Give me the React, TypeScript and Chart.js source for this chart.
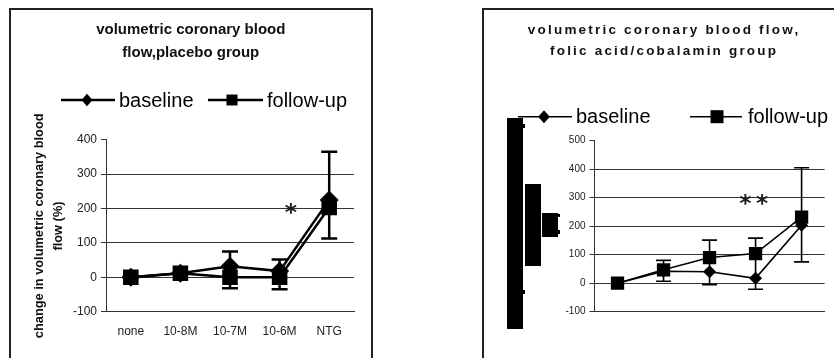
import { useEffect, useRef } from "react";
import { Chart, registerables } from "chart.js";

Chart.register(...registerables);

const FONT = '"Liberation Sans", Arial, Helvetica, sans-serif';
const STAR_FONT = '"DejaVu Sans", "Liberation Sans", sans-serif';

// Dose steps shared by both panels
const doses = ["none", "10-8M", "10-7M", "10-6M", "NTG"];

// Placebo group: % change in volumetric coronary blood flow
const placeboBaseline = [0, 12, 32, 18, 225];
const placeboFollowUp = [0, 12, 0, 0, 203];
const placeboErrLow: (number | null)[] = [null, null, -32, -35, 113];
const placeboErrHigh: (number | null)[] = [null, null, 75, 52, 365];
const placeboTicks = [-100, 0, 100, 200, 300, 400];

// Folic acid / cobalamin group
const vitaminBaseline = [0, 42, 40, 17, 203];
const vitaminFollowUp = [0, 47, 90, 104, 232];
const vitaminErrLow: (number | null)[] = [null, 7, -5, -21, 75];
const vitaminErrHigh: (number | null)[] = [null, 80, 151, 158, 405];
const vitaminTicks = [-100, 0, 100, 200, 300, 400, 500];

const seriesNames = ["baseline", "follow-up"];

// width reserved for the y axis (tick marks + labels)
const Y_AXIS_W = 44;

type LegendItem = {
  x1: number;
  x2: number;
  mx: number;
  marker: "diamond" | "square";
  mw: number;
  mh: number;
  tx: number;
  text: string;
};

type Decor = {
  title: { lines: string[]; font: string; spacing: number; cx: number; baselines: number[] };
  yTitle?: { lines: string[]; font: string; xs: number[]; cys: number[] };
  legend: { y: number; lineWidth: number; font: string; textY: number; items: LegendItem[] };
  stars: { cx: number; cy: number; h: number }[];
  blocks?: [number, number, number, number][];
};

function errorBars(lows: (number | null)[], highs: (number | null)[], lineWidth: number, cap: number) {
  return {
    id: "errorBars",
    afterDatasetsDraw(chart: any) {
      const { ctx } = chart;
      const xs = chart.scales.x;
      const ys = chart.scales.y;
      ctx.save();
      ctx.strokeStyle = "#000";
      ctx.lineWidth = lineWidth;
      lows.forEach((lo, i) => {
        const hi = highs[i];
        if (lo == null || hi == null) return;
        const px = xs.getPixelForValue(i);
        const yl = ys.getPixelForValue(lo);
        const yh = ys.getPixelForValue(hi);
        ctx.beginPath();
        ctx.moveTo(px, yl);
        ctx.lineTo(px, yh);
        ctx.moveTo(px - cap / 2, yl);
        ctx.lineTo(px + cap / 2, yl);
        ctx.moveTo(px - cap / 2, yh);
        ctx.lineTo(px + cap / 2, yh);
        ctx.stroke();
      });
      ctx.restore();
    },
  };
}

function drawStar(ctx: CanvasRenderingContext2D, cx: number, cy: number, h: number) {
  ctx.font = `bold 100px ${STAR_FONT}`;
  const m = ctx.measureText("*");
  const gh = m.actualBoundingBoxAscent + m.actualBoundingBoxDescent;
  const size = (100 * h) / gh;
  ctx.font = `bold ${size}px ${STAR_FONT}`;
  const m2 = ctx.measureText("*");
  ctx.textAlign = "left";
  ctx.textBaseline = "alphabetic";
  const x = cx - (m2.actualBoundingBoxRight - m2.actualBoundingBoxLeft) / 2;
  const y = cy + (m2.actualBoundingBoxAscent - m2.actualBoundingBoxDescent) / 2;
  ctx.fillText("*", x, y);
}

function decorPlugin(d: Decor) {
  return {
    id: "panelDecor",
    afterDraw(chart: any) {
      const ctx: CanvasRenderingContext2D = chart.ctx;
      ctx.save();
      ctx.fillStyle = "#000";

      // solid blocks beside the axis
      (d.blocks || []).forEach(([x, y, w, h]) => ctx.fillRect(x, y, w, h));

      // title
      ctx.fillStyle = "#111";
      ctx.font = d.title.font;
      ctx.textAlign = "center";
      ctx.textBaseline = "alphabetic";
      (ctx as any).letterSpacing = `${d.title.spacing}px`;
      d.title.lines.forEach((t, i) => {
        ctx.fillText(t, d.title.cx + d.title.spacing / 2, d.title.baselines[i]);
      });
      (ctx as any).letterSpacing = "0px";

      // rotated axis title
      if (d.yTitle) {
        ctx.font = d.yTitle.font;
        d.yTitle.lines.forEach((t, i) => {
          ctx.save();
          ctx.translate(d.yTitle!.xs[i], d.yTitle!.cys[i]);
          ctx.rotate(-Math.PI / 2);
          ctx.textAlign = "center";
          ctx.fillText(t, 0, 0);
          ctx.restore();
        });
      }

      // legend
      const L = d.legend;
      ctx.strokeStyle = "#000";
      ctx.fillStyle = "#000";
      ctx.lineWidth = L.lineWidth;
      L.items.forEach((it) => {
        ctx.beginPath();
        ctx.moveTo(it.x1, L.y);
        ctx.lineTo(it.x2, L.y);
        ctx.stroke();
        ctx.beginPath();
        if (it.marker === "diamond") {
          ctx.moveTo(it.mx - it.mw / 2, L.y);
          ctx.lineTo(it.mx, L.y - it.mh / 2);
          ctx.lineTo(it.mx + it.mw / 2, L.y);
          ctx.lineTo(it.mx, L.y + it.mh / 2);
          ctx.closePath();
        } else {
          ctx.rect(it.mx - it.mw / 2, L.y - it.mh / 2, it.mw, it.mh);
        }
        ctx.fill();
        ctx.font = L.font;
        ctx.textAlign = "left";
        ctx.textBaseline = "alphabetic";
        ctx.fillText(it.text, it.tx, L.textY);
      });

      // significance markers
      ctx.fillStyle = "#222";
      d.stars.forEach((s) => drawStar(ctx, s.cx, s.cy, s.h));
      ctx.restore();
    },
  };
}

function lineDataset(label: string, data: number[], style: string, radius: number, width: number) {
  return {
    label,
    data,
    borderColor: "#000",
    backgroundColor: "#000",
    borderWidth: width,
    pointStyle: style,
    pointRadius: radius,
    pointBorderWidth: 0,
    pointBackgroundColor: "#000",
    tension: 0,
    fill: false,
  };
}

function yScale(ticks: number[], fontSize: number, topHidden: number) {
  return {
    min: ticks[0],
    max: ticks[ticks.length - 1],
    afterBuildTicks: (s: any) => {
      s.ticks = ticks.map((v) => ({ value: v }));
    },
    afterFit: (s: any) => {
      s.width = Y_AXIS_W;
    },
    grid: {
      color: (c: any) => (c.tick && c.tick.value === topHidden ? "rgba(0,0,0,0)" : "#333"),
      tickColor: "#333",
      tickLength: 5,
      lineWidth: 1,
    },
    border: { display: true, color: "#333", width: 1 },
    ticks: { color: "#222", font: { family: FONT, size: fontSize }, padding: 4 },
  };
}

function placeboConfig(): any {
  return {
    type: "line",
    data: {
      labels: doses,
      datasets: [
        lineDataset(seriesNames[0], placeboBaseline, "rectRot", 9.5, 2.5),
        lineDataset(seriesNames[1], placeboFollowUp, "rect", 11, 2.5),
      ],
    },
    options: {
      responsive: false,
      animation: false,
      events: [],
      layout: { padding: { left: 106 - Y_AXIS_W, right: 480, top: 139.7, bottom: 16.3 } },
      plugins: { legend: { display: false }, title: { display: false }, tooltip: { enabled: false } },
      scales: {
        x: {
          offset: true,
          grid: { display: false },
          border: { display: true, color: "#333", width: 1 },
          ticks: { color: "#222", font: { family: FONT, size: 12 }, padding: 5, maxRotation: 0, autoSkip: false },
          afterFit: (s: any) => {
            s.height = 30;
          },
        },
        y: yScale(placeboTicks, 12, 400),
      },
    },
    plugins: [
      errorBars(placeboErrLow, placeboErrHigh, 2.5, 16),
      decorPlugin({
        title: {
          lines: ["volumetric coronary blood", "flow,placebo group"],
          font: `bold 15px ${FONT}`,
          spacing: 0,
          cx: 190.8,
          baselines: [34, 56.7],
        },
        yTitle: {
          lines: ["change in volumetric coronary blood", "flow (%)"],
          font: `bold 12.8px ${FONT}`,
          xs: [42.7, 61.7],
          cys: [225.8, 226],
        },
        legend: {
          y: 100,
          lineWidth: 2.5,
          font: `20px ${FONT}`,
          textY: 107,
          items: [
            { x1: 61, x2: 115, mx: 87, marker: "diamond", mw: 11, mh: 12.5, tx: 119, text: seriesNames[0] },
            { x1: 208, x2: 263, mx: 232, marker: "square", mw: 11, mh: 11, tx: 267, text: seriesNames[1] },
          ],
        },
        stars: [{ cx: 290.8, cy: 208, h: 11 }],
      }),
    ],
  };
}

function vitaminConfig(): any {
  return {
    type: "line",
    data: {
      labels: doses,
      datasets: [
        lineDataset(seriesNames[0], vitaminBaseline, "rectRot", 6.5, 1.6),
        lineDataset(seriesNames[1], vitaminFollowUp, "rect", 9.4, 1.6),
      ],
    },
    options: {
      responsive: false,
      animation: false,
      events: [],
      layout: { padding: { left: 594.5 - Y_AXIS_W, right: 7.5, top: 140.7, bottom: 46.3 } },
      plugins: { legend: { display: false }, title: { display: false }, tooltip: { enabled: false } },
      scales: {
        x: {
          offset: true,
          grid: { display: false },
          border: { display: true, color: "#333", width: 1 },
          ticks: { display: false },
          afterFit: (s: any) => {
            s.height = 0;
          },
        },
        y: yScale(vitaminTicks, 10, 500),
      },
    },
    plugins: [
      errorBars(vitaminErrLow, vitaminErrHigh, 1.6, 15),
      decorPlugin({
        title: {
          lines: ["volumetric coronary blood flow,", "folic acid/cobalamin group"],
          font: `bold 13.5px ${FONT}`,
          spacing: 2.2,
          cx: 663,
          baselines: [34, 55],
        },
        legend: {
          y: 116.7,
          lineWidth: 1.5,
          font: `20px ${FONT}`,
          textY: 122.5,
          items: [
            { x1: 518, x2: 572, mx: 544, marker: "diamond", mw: 11.7, mh: 13, tx: 576, text: seriesNames[0] },
            { x1: 690, x2: 742, mx: 717, marker: "square", mw: 13, mh: 13, tx: 748, text: seriesNames[1] },
          ],
        },
        stars: [
          { cx: 745.3, cy: 199, h: 11 },
          { cx: 762, cy: 199, h: 11 },
        ],
        blocks: [
          [507, 118, 16, 211],
          [523, 124, 2, 4],
          [523, 290, 2, 4],
          [525, 184, 16, 82],
          [542, 213, 16, 24],
          [558, 214, 2, 3],
          [558, 230, 2, 4],
        ],
      }),
    ],
  };
}

export default function App() {
  const leftRef = useRef<HTMLCanvasElement>(null);
  const rightRef = useRef<HTMLCanvasElement>(null);

  useEffect(() => {
    const a = new Chart(leftRef.current as HTMLCanvasElement, placeboConfig());
    const b = new Chart(rightRef.current as HTMLCanvasElement, vitaminConfig());
    return () => {
      a.destroy();
      b.destroy();
    };
  }, []);

  const abs = { position: "absolute" as const, left: 0, top: 0 };
  return (
    <div style={{ ...abs, width: 834, height: 358, overflow: "hidden", background: "#fff" }}>
      <div
        style={{
          position: "absolute",
          left: 9,
          top: 8,
          width: 364,
          height: 420,
          border: "2px solid #222",
          boxSizing: "border-box",
        }}
      />
      <div
        style={{
          position: "absolute",
          left: 482,
          top: 8,
          width: 420,
          height: 420,
          border: "2px solid #222",
          boxSizing: "border-box",
        }}
      />
      <canvas ref={leftRef} width={834} height={358} style={{ ...abs, width: 834, height: 358 }} />
      <canvas ref={rightRef} width={834} height={358} style={{ ...abs, width: 834, height: 358 }} />
    </div>
  );
}
